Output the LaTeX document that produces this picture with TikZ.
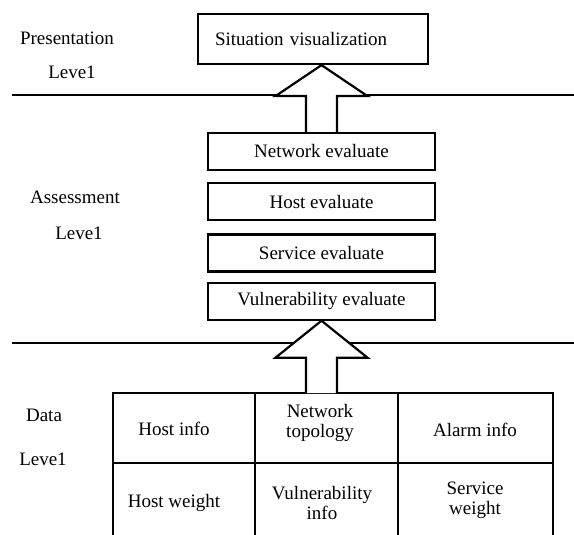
\documentclass[tikz,border=0pt]{standalone}
\usepackage{fontspec}
\setmainfont{Liberation Serif}
\usetikzlibrary{positioning,calc}

% hollow block arrow: #1 foot of the shaft, #2 tip, #3 length of the head
\newcommand{\hollowarrow}[3]{%
  \draw[bigarrow] let \p1=(#1), \p2=(#2) in
    (\x2-15.5pt,\y1) -- (\x2-15.5pt,\y2-#3) -- (\x2-46pt,\y2-#3) -- (\x2,\y2)
    -- (\x2+46pt,\y2-#3) -- (\x2+15.5pt,\y2-#3) -- (\x2+15.5pt,\y1);}

\begin{document}
\begin{tikzpicture}[x=1pt,y=-1pt,font=\fontsize{19}{20}\selectfont]
\tikzstyle{rule} = [line width=2.2pt] % separator between levels
\tikzstyle{topbox} = [draw, line width=2.2pt, minimum height=50pt, text width=196pt, inner xsep=17pt, align=left] % presentation box
\tikzstyle{evbox} = [draw, line width=2.2pt, minimum width=227pt, minimum height=37pt, inner sep=0pt] % assessment boxes
\tikzstyle{bigarrow} = [line width=2.2pt, fill=white, line join=miter] % block arrow
\tikzstyle{cell} = [align=center, inner sep=0pt] % table text
\tikzstyle{lvl} = [inner sep=0pt] % level names

\useasboundingbox (0,0) rectangle (574,535);
\clip (0,0) rectangle (574,535);

% levels
\draw[rule] (12,95) -- (574,95);
\draw[rule] (12,343) -- (574,343);

\node[lvl] (pres) at (67,38) {Presentation};
\node[lvl] (presl) at (72,72) {Leve1};
\node[lvl] (asse) at (75,197) {Assessment};
\node[lvl] (assel) at (79,233) {Leve1};
\node[lvl] (data) at (44,415) {Data};
\node[lvl] (datal) at (43,459) {Leve1};

% presentation
\node[topbox] (vis) at (313,39) {Situation visualization};

% assessment
\node[evbox] (net) at (321.5,151.5) {Network evaluate};
\node[evbox, below=11pt of net] (host) {Host evaluate};
\node[evbox, below=12pt of host] (serv) {Service evaluate};
\node[evbox, below=9pt of serv] (vuln) {Vulnerability evaluate};

% data table
\coordinate (datatop) at (333,393);
\draw[rule] (113,545) -- (113,393) -- (553,393) -- (553,545);
\draw[rule] (255,393) -- (255,545);
\draw[rule] (398,393) -- (398,545);
\draw[rule] (113,463) -- (553,463);

\node[cell] (hinfo) at (174,429) {Host info};
\node[cell] (ntopo) at (320,423) {Network\\topology};
\node[cell] (alarm) at (475,430) {Alarm info};
\node[cell] (hweight) at (174,503) {Host weight};
\node[cell] (vinfo) at (322,503) {Vulnerability\\info};
\node[cell] (sweight) at (475,500) {Service\\weight};

% arrows between levels
\hollowarrow{net.north}{vis.south -| net.north}{31pt}
\hollowarrow{vuln.south |- datatop}{vuln.south}{37pt}
\end{tikzpicture}
\end{document}
